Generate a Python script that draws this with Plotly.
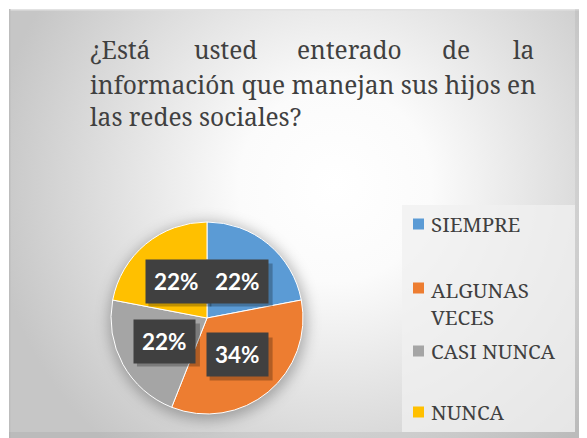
import base64
import math
import plotly.graph_objects as go

# ---- data ----
categories = ["SIEMPRE", "ALGUNAS VECES", "CASI NUNCA", "NUNCA"]
values = [22, 34, 22, 22]
legend_labels = ["SIEMPRE", "ALGUNAS<br>VECES", "CASI NUNCA", "NUNCA"]
colors = ["#5B9BD5", "#ED7D31", "#A5A5A5", "#FFC000"]
title_line1_words = ["¿Está", "usted", "enterado", "de", "la"]
title_line2 = "información que manejan sus hijos en"
title_line3 = "las redes sociales?"

# ---- layout geometry (pixels, in page coordinates; page has 8px body margin) ----
W, H = 587, 438
OFF = 8
cx, cy, R = 207, 318, 96
BOX_W, BOX_H = 62, 41


def px(x):
    return (x - OFF) / W


def py(y):
    return 1 - (y - OFF) / H


def sx(x):
    return x - OFF


svg = f'''<svg xmlns="http://www.w3.org/2000/svg" width="{W}" height="{H}" viewBox="0 0 {W} {H}">
<defs>
<radialGradient id="g" gradientUnits="userSpaceOnUse" cx="{sx(335)}" cy="{sx(185)}" r="345">
<stop offset="0" stop-color="#ffffff"/>
<stop offset="0.28" stop-color="#fbfbfb"/>
<stop offset="1" stop-color="#c6c6c6"/>
</radialGradient>
<filter id="b" x="-30%" y="-30%" width="160%" height="160%"><feGaussianBlur stdDeviation="7"/></filter>
</defs>
<rect x="1" y="1" width="{W}" height="{H}" fill="url(#g)"/>
<rect x="1" y="1" width="{W}" height="1.5" fill="#e2e2e2"/>
<rect x="1" y="1" width="1.5" height="{H}" fill="#bdbdbd"/>
<rect x="{sx(575)}" y="1" width="{W}" height="{H}" fill="#000" fill-opacity="0.05"/>
<rect x="1" y="{sx(432)}" width="{sx(575) - 1}" height="{H}" fill="#000" fill-opacity="0.05"/>
<rect x="{sx(402)}" y="{sx(205)}" width="173" height="227" fill="#f0f0f0" fill-opacity="0.75"/>
<circle cx="{sx(cx) + 1}" cy="{sx(cy) + 3}" r="{R + 3}" fill="#000" fill-opacity="0.28" filter="url(#b)"/>
</svg>'''
src = "data:image/svg+xml;base64," + base64.b64encode(svg.encode("utf-8")).decode()

fig = go.Figure()
fig.add_trace(go.Pie(
    labels=categories,
    values=values,
    sort=False,
    direction="clockwise",
    rotation=0,
    marker=dict(colors=colors, line=dict(color="#ffffff", width=1)),
    textinfo="none",
    hoverinfo="label+percent",
    showlegend=False,
    domain=dict(x=[px(cx - R), px(cx + R)], y=[py(cy + R), py(cy - R)]),
))

annotations = []
shapes = []

# percentage labels placed at half radius on each slice's mid angle
total = sum(values)
cum = 0
for v in values:
    mid = (cum + v / 2) / total * 2 * math.pi
    cum += v
    lx = cx + 0.5 * R * math.sin(mid)
    ly = cy - 0.5 * R * math.cos(mid)
    txt = f"{round(v / total * 100)}%"
    shapes.append(dict(type="rect", xref="paper", yref="paper", layer="above",
                       x0=px(lx - BOX_W / 2 + 3), x1=px(lx + BOX_W / 2 + 4),
                       y0=py(ly + BOX_H / 2 + 5), y1=py(ly - BOX_H / 2 + 3),
                       fillcolor="rgba(0,0,0,0.25)", line=dict(width=0)))
    annotations.append(dict(
        x=px(lx), y=py(ly), xref="paper", yref="paper", text=txt, showarrow=False,
        xanchor="center", yanchor="middle",
        font=dict(family="Lato", size=22.5, color="#ffffff", weight="bold"),
        bgcolor="#404040", borderpad=8,
    ))

# title (justified first line)
serif = "Noto Serif"
tfont = dict(family=serif, size=24.5, color="#404040")
word_x = [88, 225, 349, 456, 536]
word_anchor = ["left", "center", "center", "center", "right"]
for w, xl, anc in zip(title_line1_words, word_x, word_anchor):
    annotations.append(dict(x=px(xl), y=py(50), xref="paper", yref="paper", text=w,
                            showarrow=False, xanchor=anc, yanchor="middle", font=tfont))
annotations.append(dict(x=px(88), y=py(84), xref="paper", yref="paper", text=title_line2,
                        showarrow=False, xanchor="left", yanchor="middle", font=tfont))
annotations.append(dict(x=px(88), y=py(117), xref="paper", yref="paper", text=title_line3,
                        showarrow=False, xanchor="left", yanchor="middle", font=tfont))

# legend
leg_y = [224, 288, 351, 412]
lfont = dict(family=serif, size=20.5, color="#404040")
for lab, col, yy in zip(legend_labels, colors, leg_y):
    shapes.append(dict(type="rect", xref="paper", yref="paper",
                       x0=px(413), x1=px(424), y0=py(yy + 5.5), y1=py(yy - 5.5),
                       fillcolor=col, line=dict(width=0)))
    annotations.append(dict(x=px(429), y=py(yy), xref="paper", yref="paper", text=lab,
                            showarrow=False, xanchor="left",
                            yanchor="middle" if "<br>" not in lab else "top",
                            yshift=0 if "<br>" not in lab else 14,
                            align="left", font=lfont))

fig.update_layout(
    width=W, height=H,
    margin=dict(l=0, r=0, t=0, b=0),
    paper_bgcolor="#ffffff",
    plot_bgcolor="rgba(0,0,0,0)",
    annotations=annotations,
    shapes=shapes,
    images=[dict(source=src, xref="paper", yref="paper", x=0, y=1, sizex=1, sizey=1,
                 xanchor="left", yanchor="top", sizing="stretch", layer="below")],
)

fig.write_html("out.html")
